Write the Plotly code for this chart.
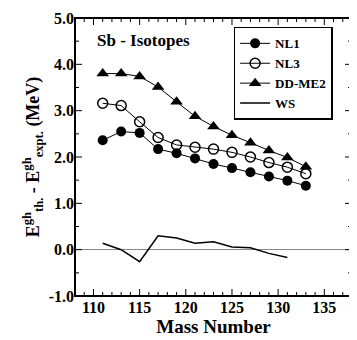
import plotly.graph_objects as go

# mass numbers of the Sb isotopes
mass = [111, 113, 115, 117, 119, 121, 123, 125, 127, 129, 131, 133]
mass_ws = [111, 113, 115, 117, 119, 121, 123, 125, 127, 129, 131]

nl1 = [2.36, 2.55, 2.52, 2.17, 2.08, 1.97, 1.85, 1.76, 1.67, 1.58, 1.49, 1.38]
nl3 = [3.16, 3.11, 2.76, 2.42, 2.26, 2.21, 2.17, 2.10, 2.00, 1.88, 1.78, 1.64]
ddme2 = [3.80, 3.80, 3.74, 3.51, 3.19, 2.88, 2.66, 2.47, 2.31, 2.14, 1.99, 1.79]
ws = [0.14, 0.00, -0.26, 0.30, 0.25, 0.14, 0.17, 0.06, 0.04, -0.08, -0.17]

x_ticks = [110, 115, 120, 125, 130, 135]
y_ticks = [-1.0, 0.0, 1.0, 2.0, 3.0, 4.0, 5.0]

X_RANGE = [108, 138]
Y_RANGE = [-1.0, 5.0]
FONT = "Liberation Serif"

fig = go.Figure()
fig.add_trace(go.Scatter(x=mass, y=nl1, name="<b>NL1</b>", mode="lines+markers",
                         line=dict(color="black", width=1),
                         marker=dict(symbol="circle", size=10, color="black")))
fig.add_trace(go.Scatter(x=mass, y=nl3, name="<b>NL3</b>", mode="lines+markers",
                         line=dict(color="black", width=1),
                         marker=dict(symbol="circle-open", size=10, color="black",
                                     line=dict(width=1.5, color="black"))))
fig.add_trace(go.Scatter(x=mass, y=ddme2, name="<b>DD-ME2</b>", mode="lines+markers",
                         line=dict(color="black", width=1),
                         marker=dict(symbol="triangle-up", size=11, color="black")))
fig.add_trace(go.Scatter(x=mass_ws, y=ws, name="<b>WS</b>", mode="lines",
                         line=dict(color="black", width=1.5)))

fig.update_xaxes(range=X_RANGE, tickvals=x_ticks,
                 ticktext=["<b>%d</b>" % t for t in x_ticks],
                 showline=False, ticks="",
                 showgrid=False, zeroline=False, automargin=False,
                 tickfont=dict(family=FONT, size=16, color="black"),
                 title=dict(text="<b>Mass Number</b>", font=dict(family=FONT, size=19, color="black"),
                            standoff=0))
fig.update_yaxes(range=Y_RANGE, tickvals=y_ticks,
                 ticktext=["<b>%.1f</b>" % t for t in y_ticks],
                 showline=False, ticks="",
                 showgrid=False, automargin=False, ticklabeloverflow="allow",
                 tickfont=dict(family=FONT, size=16, color="black"),
                 title=dict(text="<b>E<sup>gh</sup><sub>th.</sub> - E<sup>gh</sup><sub>expt.</sub> (MeV)</b>",
                            font=dict(family=FONT, size=18, color="black"), standoff=4),
                 zeroline=True, zerolinecolor="#888888", zerolinewidth=1)

# inside tick marks on all four sides (major + minor)
tick_line = dict(color="black", width=1)
for xv in range(X_RANGE[0], X_RANGE[1] + 1):
    ln = 7 if xv in x_ticks else 4
    fig.add_shape(type="line", xref="x", yref="paper", ysizemode="pixel", yanchor=0,
                  x0=xv, x1=xv, y0=0, y1=ln, line=tick_line, layer="above")
    fig.add_shape(type="line", xref="x", yref="paper", ysizemode="pixel", yanchor=1,
                  x0=xv, x1=xv, y0=0, y1=-ln, line=tick_line, layer="above")
for i in range(int((Y_RANGE[1] - Y_RANGE[0]) / 0.5) + 1):
    yv = Y_RANGE[0] + 0.5 * i
    ln = 7 if yv in y_ticks else 4
    fig.add_shape(type="line", xref="paper", yref="y", xsizemode="pixel", xanchor=0,
                  x0=0, x1=ln, y0=yv, y1=yv, line=tick_line, layer="above")
    fig.add_shape(type="line", xref="paper", yref="y", xsizemode="pixel", xanchor=1,
                  x0=0, x1=-ln, y0=yv, y1=yv, line=tick_line, layer="above")

fig.add_annotation(x=0.072, y=0.96, xref="paper", yref="paper", xanchor="left", yanchor="top",
                   text="<b>Sb - Isotopes</b>", showarrow=False,
                   font=dict(family=FONT, size=17, color="black"))

# frame around the plot area
fig.add_shape(type="rect", xref="paper", yref="paper", x0=0, y0=0, x1=1, y1=1,
              line=dict(color="black", width=2), fillcolor="rgba(0,0,0,0)", layer="above")

# the page body has an 8px margin, so the figure is sized to fit inside it
fig.update_layout(
    width=349, height=332,
    margin=dict(l=67, r=5, t=10, b=44),
    plot_bgcolor="rgba(0,0,0,0)", paper_bgcolor="white",
    font=dict(family=FONT, color="black"),
    legend=dict(x=0.93, y=0.968, xanchor="right", yanchor="top",
                bordercolor="black", borderwidth=1.5, bgcolor="white",
                font=dict(family=FONT, size=13, color="black"),
                itemwidth=30, tracegroupgap=0),
    showlegend=True,
)

fig.write_html("out.html")
